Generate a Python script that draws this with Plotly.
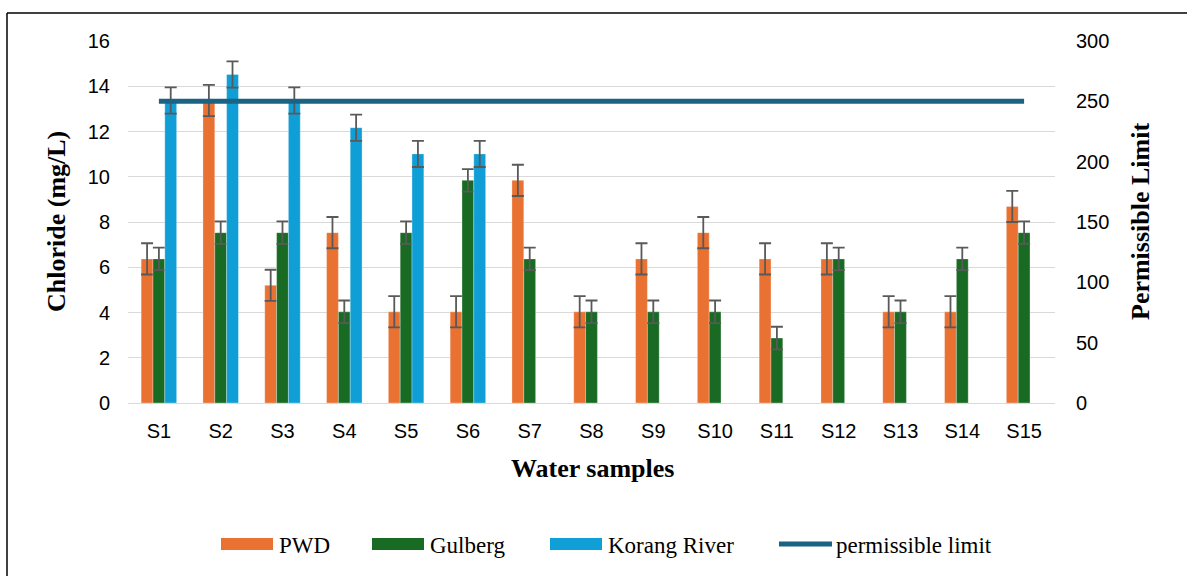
import plotly.graph_objects as go

samples = ["S1", "S2", "S3", "S4", "S5", "S6", "S7", "S8", "S9", "S10", "S11", "S12", "S13", "S14", "S15"]
pwd = [6.37, 13.37, 5.2, 7.53, 4.03, 4.03, 9.84, 4.03, 6.37, 7.53, 6.37, 6.37, 4.03, 4.03, 8.69]
gulberg = [6.37, 7.53, 7.53, 4.03, 7.53, 9.84, 6.37, 4.03, 4.03, 4.03, 2.87, 6.37, 4.03, 6.37, 7.53]
korang = [13.37, 14.52, 13.37, 12.17, 11.01, 11.01, None, None, None, None, None, None, None, None, None]
pwd_err = [0.69] * 15
gulberg_err = [0.5] * 15
korang_err = [0.58] * 15
permissible = [250] * 15

C_PWD = "#E97132"
C_GUL = "#196B24"
C_KOR = "#0F9ED5"
C_LIM = "#1A6384"
C_ERR = "#595959"

W, H = 1187, 576
L, R, T, B = 128, 1055, 41, 403
PW, PH = R - L, B - T


def px(x):
    return (x - L) / PW


def py(y):
    return (B - y) / PH


fig = go.Figure()
for name, vals, errs, col in [("PWD", pwd, pwd_err, C_PWD),
                              ("Gulberg", gulberg, gulberg_err, C_GUL),
                              ("Korang River", korang, korang_err, C_KOR)]:
    fig.add_trace(go.Bar(
        x=samples, y=vals, name=name,
        marker=dict(color=col, line=dict(color="rgba(255,255,255,0.5)", width=0.6)),
        error_y=dict(type="data", array=errs, visible=True, color=C_ERR, thickness=1.8, width=6),
        showlegend=False,
    ))

fig.add_trace(go.Scatter(
    x=samples, y=permissible, name="permissible limit", yaxis="y2",
    mode="lines", line=dict(color=C_LIM, width=5), showlegend=False,
))

tickfont = dict(family="Liberation Sans, Arial", size=20, color="#000000")
titlefont = dict(family="Liberation Serif, Times New Roman", size=26, color="#000000")

fig.update_layout(
    width=W, height=H,
    margin=dict(l=L, r=W - R, t=T, b=H - B, pad=0),
    paper_bgcolor="white", plot_bgcolor="white",
    barmode="group", bargap=0.426, bargroupgap=0,
    showlegend=False,
    xaxis=dict(type="category", showgrid=False, ticks="", tickfont=tickfont,
               ticklabelstandoff=14, showline=False, zeroline=False),
    yaxis=dict(range=[0, 16], dtick=2, tick0=0, showgrid=True, gridcolor="#D9D9D9",
               gridwidth=1.2, zeroline=True, zerolinecolor="#D9D9D9", zerolinewidth=1.2,
               ticks="", tickfont=tickfont, ticklabelstandoff=17, showline=False),
    yaxis2=dict(range=[0, 300], dtick=50, tick0=0, overlaying="y", side="right",
                showgrid=False, zeroline=False, ticks="", tickfont=tickfont,
                ticklabelstandoff=20, showline=False),
)

annotations = [
    dict(text="<b>Chloride (mg/L)</b>", x=px(56), y=0.5, xref="paper", yref="paper",
         textangle=-90, showarrow=False, font=titlefont, xanchor="center", yanchor="middle"),
    dict(text="<b>Permissible Limit</b>", x=px(1140), y=0.5, xref="paper", yref="paper",
         textangle=-90, showarrow=False, font=titlefont, xanchor="center", yanchor="middle"),
    dict(text="<b>Water samples</b>", x=px(592), y=py(468), xref="paper", yref="paper",
         showarrow=False, font=titlefont, xanchor="center", yanchor="middle"),
]

legfont = dict(family="Liberation Serif, Times New Roman", size=23, color="#000000")
legend_items = [
    ("PWD", C_PWD, 221, 273, 277, "rect"),
    ("Gulberg", C_GUL, 372, 424, 428, "rect"),
    ("Korang River", C_KOR, 550, 602, 606, "rect"),
    ("permissible limit", C_LIM, 779, 832, 834, "line"),
]
shapes = []
for label, col, x0, x1, tx, kind in legend_items:
    if kind == "rect":
        shapes.append(dict(type="rect", xref="paper", yref="paper",
                           x0=px(x0), x1=px(x1), y0=py(550), y1=py(538),
                           fillcolor=col, line=dict(width=0)))
    else:
        shapes.append(dict(type="line", xref="paper", yref="paper",
                           x0=px(x0), x1=px(x1), y0=py(544), y1=py(544),
                           line=dict(color=col, width=5)))
    annotations.append(dict(text=label, x=px(tx), y=py(545), xref="paper", yref="paper",
                            showarrow=False, font=legfont, xanchor="left", yanchor="middle"))

# outer frame (partly cropped in the reference)
shapes.append(dict(type="line", xref="paper", yref="paper", x0=px(7), x1=px(1195),
                   y0=py(13), y1=py(13), line=dict(color="#000000", width=1.5)))
shapes.append(dict(type="line", xref="paper", yref="paper", x0=px(7), x1=px(7),
                   y0=py(13), y1=py(590), line=dict(color="#000000", width=1.5)))

fig.update_layout(annotations=annotations, shapes=shapes)
fig.write_html("out.html", config={"displayModeBar": False},
               post_script="document.body.style.margin='0';document.body.style.padding='0';")
